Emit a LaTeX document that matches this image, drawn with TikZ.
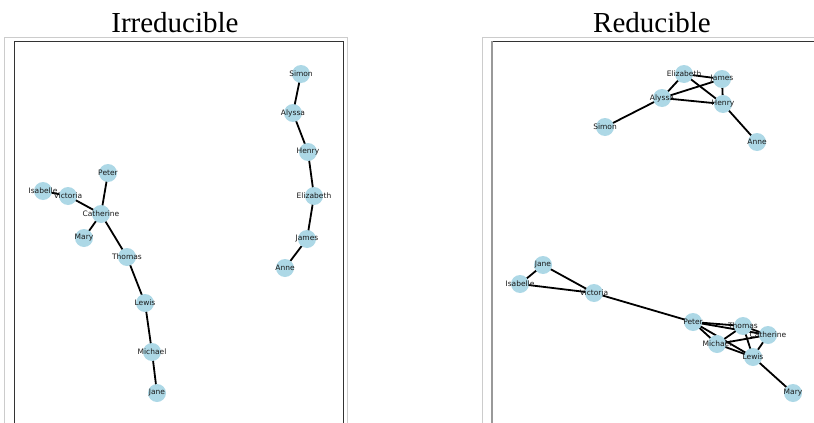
\documentclass[tikz,border=0pt]{standalone}
\usepackage{fontspec}
\setmainfont{Liberation Serif}
\newfontfamily\labelfont{DejaVu Sans}
\usetikzlibrary{backgrounds}
\definecolor{nodeblue}{HTML}{ADD8E6}
\definecolor{framegray}{HTML}{CCCCCC}
\definecolor{framedark}{HTML}{333333}
\tikzset{
  person/.style={circle, fill=nodeblue, draw=none, minimum size=18pt, inner sep=0pt,
    label={[font=\labelfont\fontsize{7.5}{8}\selectfont, text=black!90, inner sep=0pt]center:#1}},
  link/.style={line width=1.8pt, black},
  title/.style={font=\fontsize{29}{32}\selectfont, anchor=base, inner sep=0pt},
  outerframe/.style={draw=framegray, line width=0.8pt},
  innerframe/.style={draw=framedark, line width=0.8pt}
}
\begin{document}
\begin{tikzpicture}[x=1pt,y=-1pt]
\path[use as bounding box] (0,0) rectangle (814,423);
\clip (0,0) rectangle (814,423);
% titles
\node[title] (t1) at (175,32) {Irreducible};
\node[title] (t2) at (652,32) {Reducible};
% frames
\draw[outerframe] (4,37) rectangle (347,440);
\draw[innerframe] (14,41) rectangle (343,440);
\draw[outerframe] (482,37) rectangle (830,440);
\draw[innerframe] (492,41) rectangle (830,440);
\draw[line width=2pt, draw=gray!80] (492,41) -- (492,440);
% left panel nodes
\node[person=Simon] (LSimon) at (301,74) {};
\node[person=Alyssa] (LAlyssa) at (293,113) {};
\node[person=Henry] (LHenry) at (308,152) {};
\node[person=Elizabeth] (LElizabeth) at (314,196) {};
\node[person=James] (LJames) at (307,239) {};
\node[person=Anne] (LAnne) at (285,268) {};
\node[person=Peter] (LPeter) at (108,173) {};
\node[person=Isabelle] (LIsabelle) at (43,191) {};
\node[person=Victoria] (LVictoria) at (68,196) {};
\node[person=Catherine] (LCatherine) at (101,214) {};
\node[person=Mary] (LMary) at (84,238) {};
\node[person=Thomas] (LThomas) at (127,257) {};
\node[person=Lewis] (LLewis) at (145,303) {};
\node[person=Michael] (LMichael) at (152,352) {};
\node[person=Jane] (LJane) at (157,393) {};
% right panel nodes
\node[person=Elizabeth] (RElizabeth) at (684,74) {};
\node[person=James] (RJames) at (722,79) {};
\node[person=Alyssa] (RAlyssa) at (662,98) {};
\node[person=Henry] (RHenry) at (723,104) {};
\node[person=Simon] (RSimon) at (605,127) {};
\node[person=Anne] (RAnne) at (757,142) {};
\node[person=Jane] (RJane) at (543,265) {};
\node[person=Isabelle] (RIsabelle) at (520,284) {};
\node[person=Victoria] (RVictoria) at (594,293) {};
\node[person=Peter] (RPeter) at (693,322) {};
\node[person=Thomas] (RThomas) at (743,326) {};
\node[person=Catherine] (RCatherine) at (768,335) {};
\node[person=Michael] (RMichael) at (717,344) {};
\node[person=Lewis] (RLewis) at (753,357) {};
\node[person=Mary] (RMary) at (793,393) {};
% edges (behind nodes)
\begin{scope}[on background layer]
\foreach \a/\b in {LSimon/LAlyssa, LAlyssa/LHenry, LHenry/LElizabeth, LElizabeth/LJames, LJames/LAnne,
  LIsabelle/LVictoria, LVictoria/LCatherine, LPeter/LCatherine, LCatherine/LMary, LCatherine/LThomas,
  LThomas/LLewis, LLewis/LMichael, LMichael/LJane,
  RElizabeth/RJames, RElizabeth/RHenry, RElizabeth/RAlyssa, RAlyssa/RJames, RAlyssa/RHenry, RJames/RHenry,
  RAlyssa/RSimon, RHenry/RAnne,
  RJane/RIsabelle, RJane/RVictoria, RIsabelle/RVictoria, RVictoria/RPeter,
  RPeter/RThomas, RPeter/RCatherine, RPeter/RMichael, RPeter/RLewis,
  RThomas/RCatherine, RThomas/RMichael, RThomas/RLewis,
  RCatherine/RMichael, RCatherine/RLewis, RMichael/RLewis, RLewis/RMary}
  \draw[link] (\a.center) -- (\b.center);
\end{scope}
\end{tikzpicture}
\end{document}
